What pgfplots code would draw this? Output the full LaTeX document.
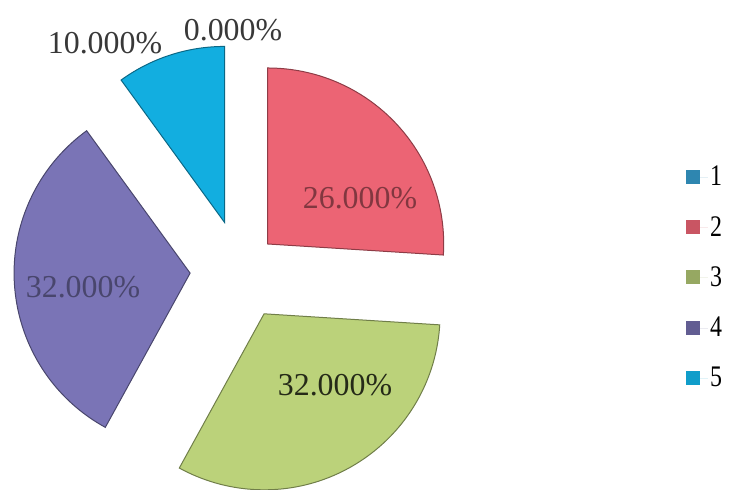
\documentclass[border=0pt]{standalone}
\usepackage{pgfplots}
\pgfplotsset{compat=1.18}
\usepackage{pgfplotstable}
\usepackage{fontspec}
\setmainfont{Liberation Serif}

\definecolor{s1}{HTML}{2E86B0}
\definecolor{s2}{HTML}{EC6474}
\definecolor{s3}{HTML}{BBD27A}
\definecolor{s4}{HTML}{7A74B6}
\definecolor{s5}{HTML}{12AEE0}

\pgfplotstableread{
id pct dist
1 0 0
2 26 38
3 32 50
4 32 50
5 10 50
}\piedata

\begin{document}
\begin{tikzpicture}
\begin{axis}[x=1bp,y=1bp,xmin=0,xmax=729,ymin=0,ymax=490,hide axis,clip=false,
  legend style={at={(axis cs:686,326)},anchor=north west,draw=none,fill=none,
    font=\fontsize{30}{34}\selectfont,row sep=25bp,inner sep=0pt,
    cells={anchor=west}},
  legend image code/.code={\fill[#1,draw=none] (0bp,-7bp) rectangle (14bp,7bp);\path[draw=none] (0bp,0bp) rectangle (22bp,0bp);}]
\addlegendimage{fill=s1}\addlegendentry{\scalebox{0.8}[1]{1}}
\addlegendimage{fill=s2!85!black}\addlegendentry{\scalebox{0.8}[1]{2}}
\addlegendimage{fill=s3!80!black}\addlegendentry{\scalebox{0.8}[1]{3}}
\addlegendimage{fill=s4!80!black}\addlegendentry{\scalebox{0.8}[1]{4}}
\addlegendimage{fill=s5!90!black}\addlegendentry{\scalebox{0.8}[1]{5}}
\pgfplotsextra{
  \coordinate (bl) at (axis cs:0,0);
  \coordinate (tr) at (axis cs:729,490);
  \pgfplotstablegetrowsof{\piedata}\pgfmathtruncatemacro\nrows{\pgfplotsretval-1}
  \gdef\cum{0}
  \foreach \i in {0,...,\nrows}{
    \pgfplotstablegetelem{\i}{pct}\of\piedata\let\p\pgfplotsretval
    \pgfplotstablegetelem{\i}{dist}\of\piedata\let\dd\pgfplotsretval
    \pgfplotstablegetelem{\i}{id}\of\piedata\let\id\pgfplotsretval
    \pgfmathsetmacro\ts{\cum*3.6}
    \pgfmathsetmacro\te{(\cum+\p)*3.6}
    \ifdim\p pt>0pt
      \pgfmathsetmacro\phs{90-\ts}
      \pgfmathsetmacro\phe{90-\te}
      \pgfmathsetmacro\phm{90-(\ts+\te)/2}
      \pgfmathsetmacro\tx{240+\dd*cos(\phm)}
      \pgfmathsetmacro\ty{220+\dd*sin(\phm)}
      \fill[s\id, draw=s\id!60!black, line width=1bp]
        (axis cs:\tx,\ty) -- ++(\phs:176bp)
        arc[start angle=\phs, end angle=\phe, radius=176bp] -- cycle;
    \fi
    \pgfmathsetmacro\newcum{\cum+\p}\xdef\cum{\newcum}
  }
}
\begin{scope}[every node/.style={font=\fontsize{32}{36}\selectfont,inner sep=0pt}]
\node[text=black!78] at (axis cs:105,447) {10.000\%};
\node[text=black!78] at (axis cs:233,460) {0.000\%};
\node[text=s2!55!black] at (axis cs:360,292) {26.000\%};
\node[text=black!80!s3] at (axis cs:335,105) {32.000\%};
\node[text=s4!60!black] at (axis cs:83,203) {32.000\%};
\end{scope}
\end{axis}
\pgfresetboundingbox
\path[use as bounding box] (bl) rectangle (tr);
\end{tikzpicture}
\end{document}
